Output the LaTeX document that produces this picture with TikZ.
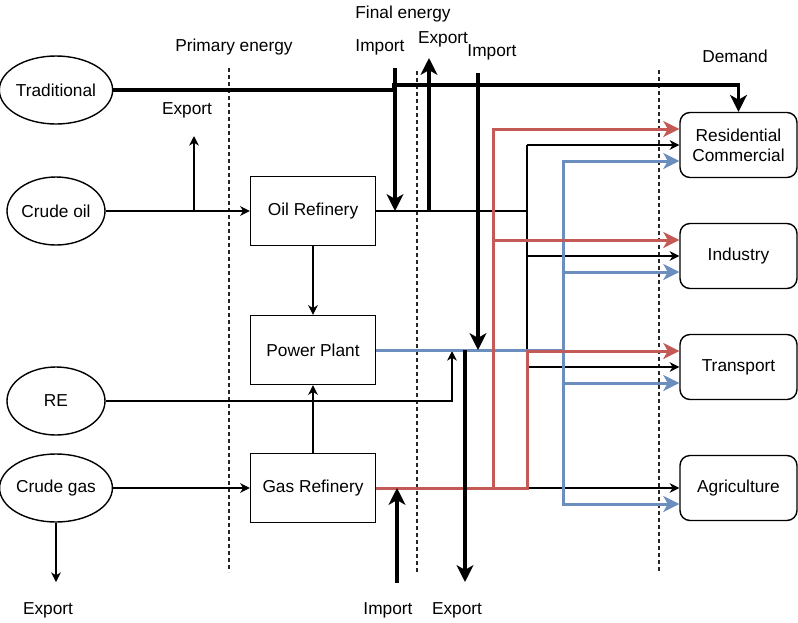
\documentclass[tikz,border=0pt]{standalone}
\usepackage{fontspec}
\setmainfont{Liberation Sans}
\usetikzlibrary{shapes,arrows.meta}

\definecolor{gasred}{RGB}{196,90,86}
\definecolor{powerblue}{RGB}{108,142,191}

\begin{document}
\begin{tikzpicture}[x=1pt,y=-1pt,
  font=\fontsize{17.3}{20}\selectfont,
  >={Stealth[length=4pt 4,width=4pt 4,inset=1.5pt 1]},
  thinline/.style={line width=1.4pt},
  heavyline/.style={line width=3.2pt},
  gasline/.style={line width=3pt, draw=gasred},
  powerline/.style={line width=3pt, draw=powerblue},
  divider/.style={draw=black!85, line width=1.3pt, dash pattern=on 4pt off 3pt},
  source/.style={draw, thinline, ellipse, inner sep=0pt, minimum width=98, minimum height=68},
  plant/.style={draw, thinline, inner sep=0pt, minimum width=125, minimum height=69},
  sink/.style={draw, thinline, rounded corners=10, inner sep=0pt, minimum width=117, minimum height=65, align=center}]

\useasboundingbox (0,0) rectangle (798,622);

\draw(56,90) node[source] (trad) {Traditional};
\draw(56,211) node[source] (oil) {Crude oil};
\draw(56,401) node[source] (re) {RE};
\draw(56,488) node[source] (cgas) {Crude gas};

\draw(313,211) node[plant] (oilref) {Oil Refinery};
\draw(313,350) node[plant] (pp) {Power Plant};
\draw(313,488) node[plant] (gasref) {Gas Refinery};

\draw(738.5,145) node[sink] (res) {Residential\\Commercial};
\draw(738.5,256) node[sink] (ind) {Industry};
\draw(738.5,367) node[sink] (trans) {Transport};
\draw(738.5,488) node[sink] (agr) {Agriculture};

\draw(234,47) node (prim) {Primary energy};
\draw(403,14) node (final) {Final energy};
\draw(735,56) node (demand) {Demand};
\draw(380,47) node (imptl) {Import};
\draw(443,39) node (exptop) {Export};
\draw(492,52) node (imptr) {Import};
\draw(187,110) node (expoil) {Export};
\draw(48,610) node (expgas) {Export};
\draw(388,610) node (impbot) {Import};
\draw(457,610) node (expbot) {Export};

\draw[divider] (229,68) -- (229,572);
\draw[divider] (417,71) -- (417,572);
\draw[divider] (659,70) -- (659,572);

\coordinate (oilexp) at (194,136);
\coordinate (gasexp) at (56,582);
\coordinate (reup) at (452,351);
\coordinate (tradstep) at (394,85);
\coordinate (imptlend) at (395,68);
\coordinate (exptopend) at (429,58);
\coordinate (imptrend) at (478,73);
\coordinate (impbotend) at (397,583);
\coordinate (expbotend) at (465,582);
\coordinate (oilbus) at (527,145);
\coordinate (ppbus) at (563,162);
\coordinate (gasbus) at (493,129);
\coordinate (gasturn) at (527,488);

\draw[thinline,->] (oil.east) -- (oilref.west);
\draw[thinline,->] (oilexp |- oil.east) -- (oilexp);
\draw[thinline,->] (cgas.east) -- (gasref.west);
\draw[thinline,->] (cgas.south) -- (gasexp);
\draw[thinline,->] (oilref) -- (pp);
\draw[thinline,->] (gasref) -- (pp);
\draw[thinline,->] (re.east) -| (reup);

\draw[thinline] (oilref.east) -| (oilbus);
\foreach \d in {res,ind,trans,agr}
  \draw[thinline,->] (oilbus) |- (\d.west);

\draw[powerline] (pp.east) -- (pp.east -| ppbus);
\foreach \d in {res,ind,trans,agr}
  \draw[powerline,->] (ppbus) |- ([yshift=-16pt]\d.west);

\draw[gasline,->] (gasref.east) -| (gasbus) -- ([yshift=16pt]res.west);
\draw[gasline,->] (gasbus) |- ([yshift=16pt]ind.west);
\draw[gasline,->] (gasref.east) -- (gasturn) |- ([yshift=16pt]trans.west);

\draw[heavyline,->] (trad.east) -| (tradstep) -| (res.north);
\draw[heavyline,->] (imptlend) -- (imptlend |- oilref.east);
\draw[heavyline,->] (exptopend |- oilref.east) -- (exptopend);
\draw[heavyline,->] (imptrend) -- (imptrend |- pp.east);
\draw[heavyline,->] (impbotend) -- (impbotend |- gasref.east);
\draw[heavyline,->] (expbotend |- pp.east) -- (expbotend);

\end{tikzpicture}
\end{document}
